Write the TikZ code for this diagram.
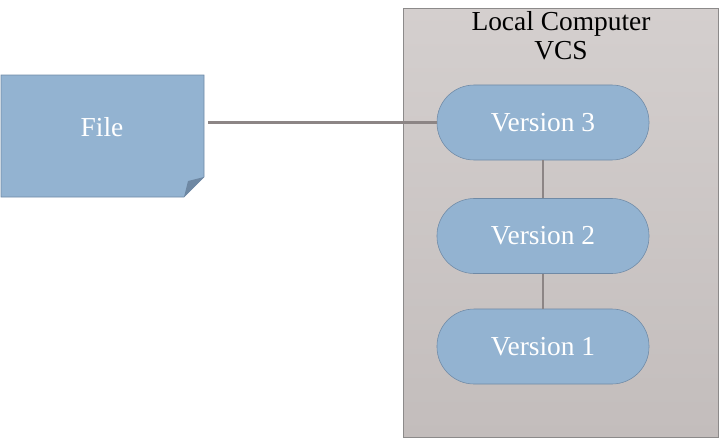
\documentclass[tikz,border=0pt]{standalone}
\usepackage{fontspec}
\setmainfont{Liberation Serif}
\usetikzlibrary{calc}
\definecolor{boxfill}{RGB}{147,179,209}
\definecolor{boxline}{RGB}{111,138,166}
\definecolor{fold}{RGB}{110,136,163}
\definecolor{linkgray}{RGB}{140,133,133}
\definecolor{paneltop}{RGB}{212,207,206}
\definecolor{panelbottom}{RGB}{195,189,188}
\definecolor{panelline}{RGB}{140,138,138}
\tikzset{
    version/.style={draw=boxline, fill=boxfill, rounded corners=0.93cm, minimum width=5.3cm,
        minimum height=1.875cm, inner sep=0pt, text=white, font=\fontsize{19.5}{22}\selectfont},
    link/.style={draw=linkgray, line width=2pt},
}

\begin{document}
\begin{tikzpicture}[x=0.025cm, y=-0.025cm]

    \useasboundingbox (0,0) rectangle (723,442);

    % panel with the local vcs
    \draw[panelline, top color=paneltop, bottom color=panelbottom] (403,8) rectangle (718,437);
    \node[align=center, font=\fontsize{19.5}{20.5}\selectfont] (title) at (561,36) {Local Computer\\VCS};

    % file with folded corner
    \draw[boxline, fill=boxfill] (1,75) -- (204,75) -- (204,177) -- (184,197) -- (1,197) -- cycle;
    \fill[fold] (184,197) -- (188,181) -- (204,177) -- cycle;
    \node[minimum width=5.075cm, minimum height=3.05cm, inner sep=0pt] (file) at (102.5,136) {};
    \node[text=white, font=\fontsize{19.5}{22}\selectfont] (filetext) at (102,127) {File};

    \node[version] (v3) at (543,122.5) {Version 3};
    \node[version] (v2) at (543,236) {Version 2};
    \node[version] (v1) at (543,346.5) {Version 1};

    \draw[link, shorten <=0.1cm] (file.east |- v3.west) -- (v3.west);
    \draw[link] (v3.south) -- (v2.north);
    \draw[link] (v2.south) -- (v1.north);

\end{tikzpicture}
\end{document}
